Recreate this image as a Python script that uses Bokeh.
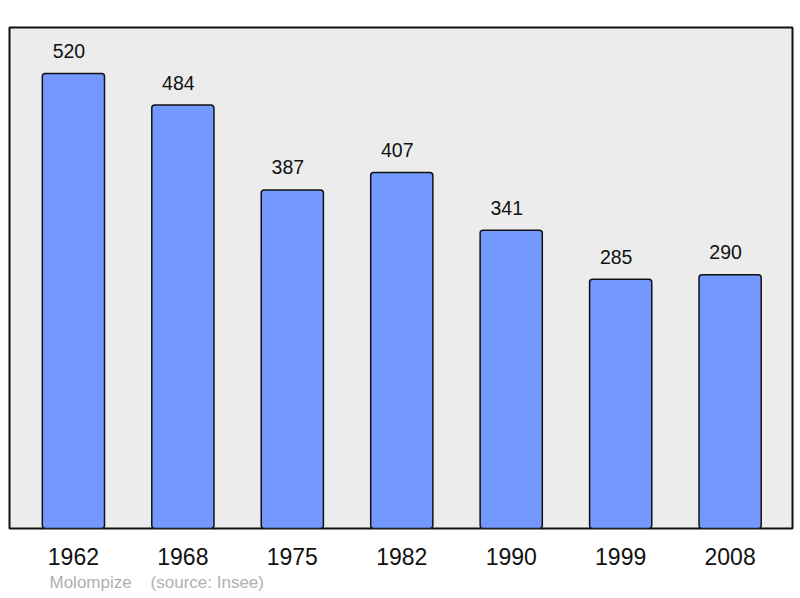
from bokeh.plotting import figure
from bokeh.models import Range1d, FixedTicker, Title
from bokeh.core.properties import value
from bokeh.embed import file_html
from bokeh.resources import INLINE

years = ["1962", "1968", "1975", "1982", "1990", "1999", "2008"]
population = [520, 484, 387, 407, 341, 285, 290]
footer_name = "Molompize"
footer_source = "(source: Insee)"

xs = list(range(len(years)))

p = figure(width=800, height=598, output_backend="svg", toolbar_location=None,
           x_range=Range1d(-0.584, 6.57), y_range=Range1d(0, 572.6),
           min_border_left=9, min_border_right=8, min_border_top=27, min_border_bottom=70)
p.background_fill_color = "#ececec"
p.border_fill_color = "white"
p.outline_line_color = "#111111"
p.outline_line_width = 2
p.grid.visible = False
p.yaxis.visible = False

p.vbar(x=xs, top=population, width=0.568, bottom=0, fill_color="#7399ff",
       line_color="#111111", line_width=1.5, border_radius=3)

p.text(x=xs, y=population, text=[str(v) for v in population], text_align="center",
       text_baseline="middle", x_offset=-4.5, y_offset=-22.5,
       text_font=value("Liberation Sans"),
       text_font_size="19.5px", text_color="#111111")

ax = p.xaxis[0]
ax.ticker = FixedTicker(ticks=xs)
ax.major_label_overrides = {i: y for i, y in zip(xs, years)}
ax.axis_line_color = None
ax.major_tick_line_color = None
ax.minor_tick_line_color = None
ax.major_label_text_font = "Liberation Sans"
ax.major_label_text_font_size = "23px"
ax.major_label_text_color = "#111111"
ax.major_label_standoff = 13

footer = footer_name + "\u00a0" * 4 + footer_source
p.add_layout(Title(text=footer, align="left", offset=40, standoff=6,
                   text_font="Liberation Sans", text_font_size="17px",
                   text_font_style="normal", text_color="#b0b0b0"), "below")

open("out.html", "w").write(file_html(p, INLINE))
